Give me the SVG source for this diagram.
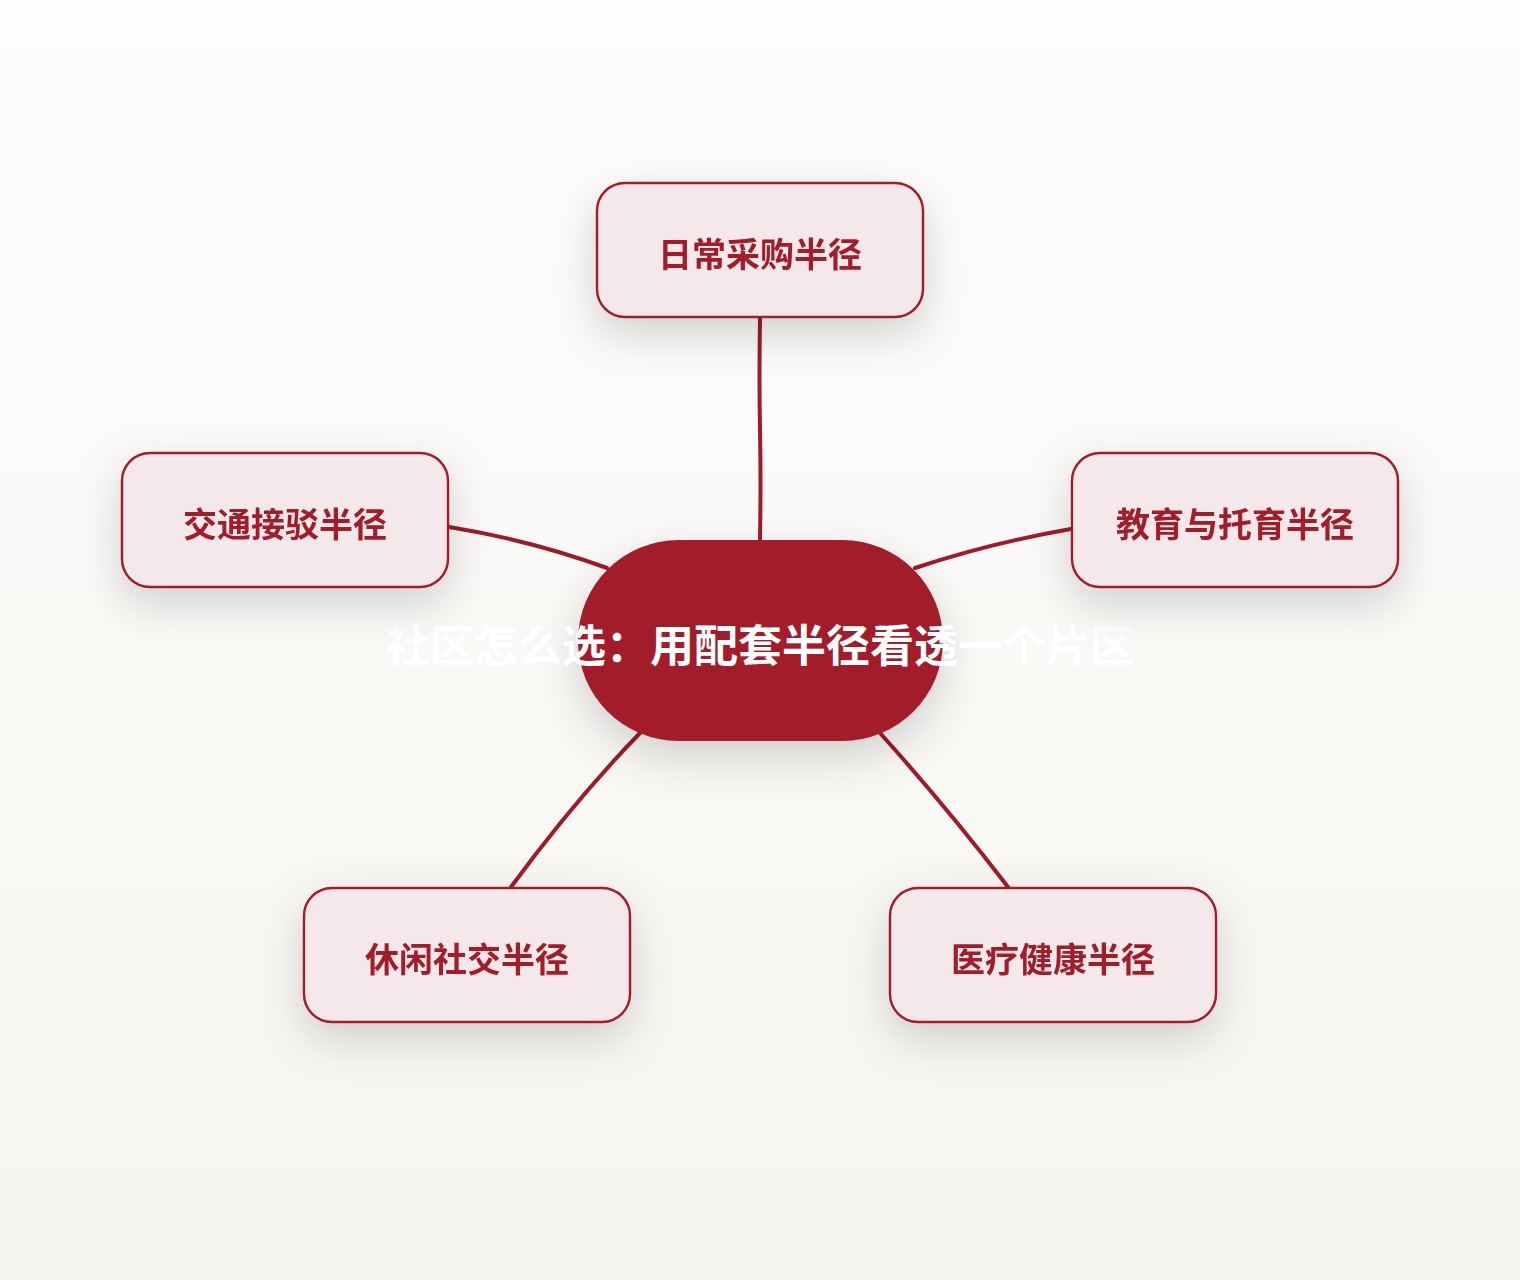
<svg xmlns="http://www.w3.org/2000/svg" width="1520" height="1280" viewBox="0 0 1520 1280">
<defs>
<linearGradient id="bg" x1="0" y1="0" x2="0" y2="1">
<stop offset="0" stop-color="#FDFDFC"/>
<stop offset="1" stop-color="#F7F5F1"/>
</linearGradient>
<filter id="sh" x="-40%" y="-50%" width="180%" height="220%">
<feDropShadow dx="0" dy="16" stdDeviation="22" flood-color="#000" flood-opacity="0.17"/>
</filter>
</defs>
<style>
.node rect{fill:#F5E8EB;stroke:#A31A2A;stroke-width:2.4}
.node text{font-family:"Noto Sans CJK SC","Noto Sans",sans-serif;font-weight:700;font-size:34px;fill:#A31A2A;text-anchor:middle;dominant-baseline:central}
.edge{fill:none;stroke:#A01A2A;stroke-width:4;stroke-linecap:round}
.title{font-family:"Noto Sans CJK SC","Noto Sans",sans-serif;font-weight:700;font-size:44px;fill:#FFFFFF;text-anchor:middle;dominant-baseline:central}
</style>
<rect x="0" y="0" width="1520" height="1280" fill="url(#bg)"/>
<g id="connectors">
<path class="edge" d="M760,318 Q759,380 760,430 T760,540"/>
<path class="edge" d="M449,527 Q530,540 607,568"/>
<path class="edge" d="M1071,529 Q990,543 915,568"/>
<path class="edge" d="M640,733 Q575,800 511,887"/>
<path class="edge" d="M880,733 Q945,805 1008,887"/>
</g>
<g id="center" filter="url(#sh)">
<rect x="578" y="540" width="365" height="201" rx="100.5" fill="#A31A2A"/>
</g>
<g id="center-label">
<text class="title" x="760" y="643">社区怎么选：用配套半径看透一个片区</text>
</g>
<g id="n1" class="node" filter="url(#sh)">
<rect x="597" y="183" width="326" height="134" rx="28"/>
<text x="760" y="252">日常采购半径</text>
</g>
<g id="n2" class="node" filter="url(#sh)">
<rect x="122" y="453" width="326" height="134" rx="28"/>
<text x="285" y="522">交通接驳半径</text>
</g>
<g id="n3" class="node" filter="url(#sh)">
<rect x="1072" y="453" width="326" height="134" rx="28"/>
<text x="1235" y="522">教育与托育半径</text>
</g>
<g id="n4" class="node" filter="url(#sh)">
<rect x="304" y="888" width="326" height="134" rx="28"/>
<text x="467" y="957">休闲社交半径</text>
</g>
<g id="n5" class="node" filter="url(#sh)">
<rect x="890" y="888" width="326" height="134" rx="28"/>
<text x="1053" y="957">医疗健康半径</text>
</g>
</svg>
